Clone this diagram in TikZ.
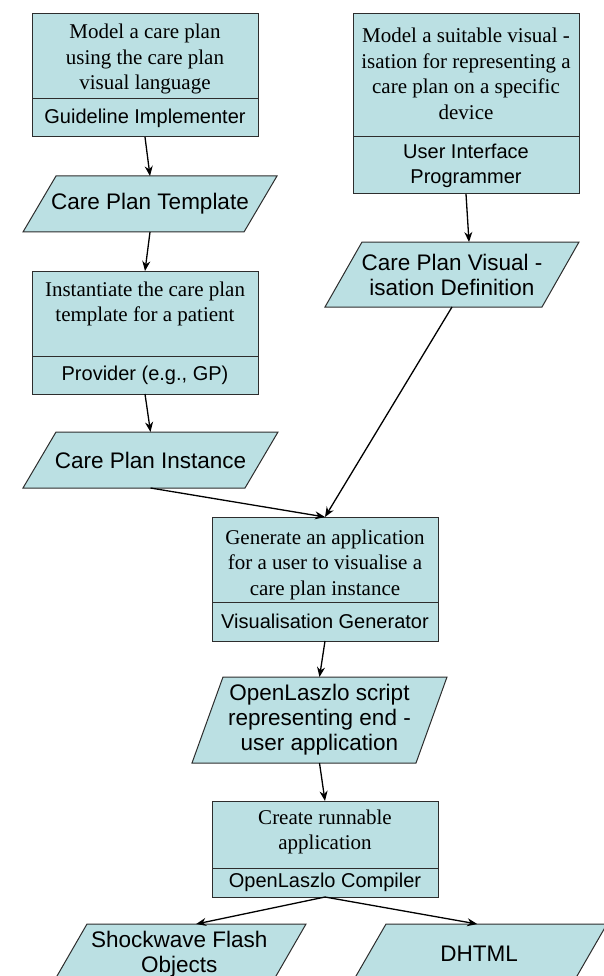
\documentclass[tikz,border=0pt]{standalone}
\usepackage{fontspec}
\setmainfont{Liberation Serif}
\newfontfamily\arialf{Liberation Sans}
\usetikzlibrary{arrows.meta}
\definecolor{boxfill}{RGB}{187,224,227}
\definecolor{linec}{RGB}{45,45,45}
\newcommand\tasktext[3]{\begin{minipage}[t][#1pt][t]{226pt}\centering\fontsize{21}{25.5}\selectfont\rule{0pt}{#2pt}#3\end{minipage}}
\newcommand\paranode[7]{%
  \filldraw[paraline] (#2+#6,#3) -- (#2+#4,#3) -- (#2+#4-#6,#3+#5) -- (#2,#3+#5) -- cycle;
  \node[para, minimum width=#4pt, minimum height=#5pt, anchor=north west] (#1) at (#2,#3) {#7};}
\begin{document}
\begin{tikzpicture}[x=1pt,y=-1pt,
  task/.style={draw=linec, fill=boxfill, line width=1pt, inner sep=0pt, outer sep=0pt, anchor=north west},
  role/.style={draw=linec, fill=boxfill, line width=1pt, inner sep=0pt, outer sep=0pt, anchor=north,
    minimum width=226pt, align=center, font={\arialf\fontsize{20}{25}\selectfont}},
  para/.style={inner sep=0pt, outer sep=0pt, align=center, font={\arialf\fontsize{22.5}{25}\selectfont}},
  paraline/.style={draw=linec, fill=boxfill, line width=1pt, line join=miter},
  arr/.style={-{Stealth[length=10pt,width=8pt]}, line width=1.3pt, black}]
\useasboundingbox (0,0) rectangle (604,976);
\clip (0,0) rectangle (604,976);

% left column
\node[task] (t1) at (32,14) {\tasktext{85}{25}{Model a care plan\\using the care plan\\visual language}};
\node[role, minimum height=38pt] (r1) at (t1.south) {Guideline Implementer};
\paranode{p1}{23}{176}{254}{56}{33}{Care Plan Template}
\node[task] (t3) at (32,271) {\tasktext{85}{25}{Instantiate the care plan\\template for a patient}};
\node[role, minimum height=38pt] (r3) at (t3.south) {Provider (e.g., GP)};
\paranode{p3}{23}{432}{255}{56}{33}{Care Plan Instance}

% right column
\node[task] (t2) at (353,14) {\tasktext{123}{29}{Model a suitable visual -\\isation for representing a\\care plan on a specific\\device}};
\node[role, minimum height=57pt] (r2) at (t2.south) {User Interface\\Programmer};
\paranode{p2}{325}{242}{254}{65}{37}{Care Plan Visual -\\isation Definition}

% centre column
\node[task] (t4) at (212,517) {\tasktext{85}{27}{Generate an application\\for a user to visualise a\\care plan instance}};
\node[role, minimum height=39pt] (r4) at (t4.south) {Visualisation Generator};
\paranode{p4}{192}{677}{255}{86}{31}{OpenLaszlo script\\representing end -\\user application}
\node[task] (t5) at (212,801) {\tasktext{67}{23}{Create runnable\\application}};
\node[role, minimum height=29pt] (r5) at (t5.south) {OpenLaszlo Compiler};
\paranode{p6}{52.4}{924}{253.6}{60}{34.6}{Shockwave Flash\\Objects}
\paranode{p7}{351.4}{924}{255.6}{60}{34.6}{DHTML}

% connectors
\draw[arr] (r1.south) -- (p1.north);
\draw[arr] (p1.south) -- (t3.north);
\draw[arr] (r3.south) -- (p3.north);
\draw[arr] (r2.south) -- ([xshift=17pt]p2.north);
\draw[arr] (p3.south) -- (t4.north);
\draw[arr] (p2.south) -- (t4.north);
\draw[arr] (r4.south) -- (p4.north);
\draw[arr] (p4.south) -- (t5.north);
\draw[arr] (r5.south) -- ([xshift=17pt]p6.north);
\draw[arr] (r5.south) -- ([xshift=-2pt]p7.north);
\end{tikzpicture}
\end{document}
